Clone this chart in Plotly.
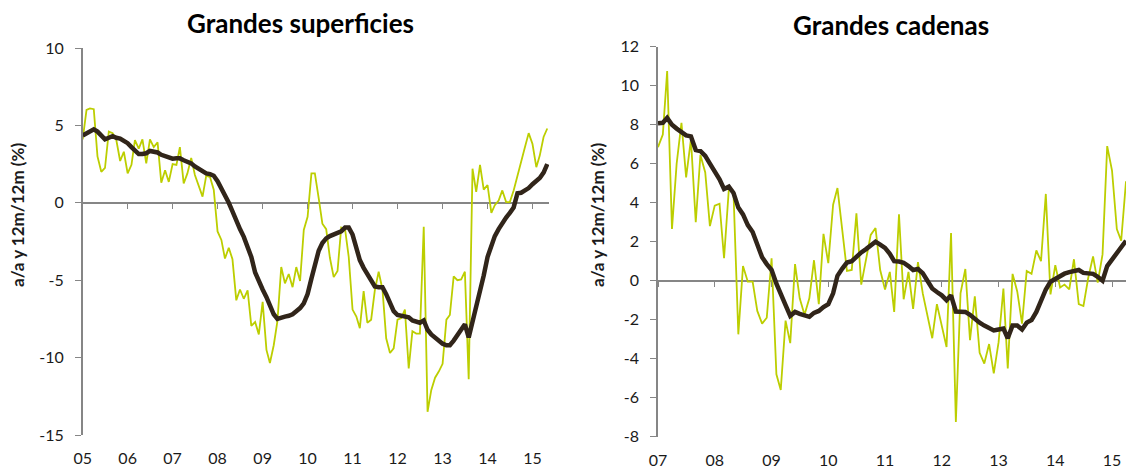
import pandas as pd
import plotly.graph_objects as go

# ---------------- data ----------------
sup_start = "2005-01-01"
sup_monthly = [
    4.1, 6.0, 6.1, 6.05, 3.0, 2.0, 2.25, 4.6, 4.5, 4.05,
    2.7, 3.3, 1.9, 2.45, 4.05, 3.5, 4.1, 2.55, 4.1, 3.6,
    3.9, 1.3, 2.1, 1.35, 2.5, 2.45, 3.6, 1.25, 1.9, 2.9,
    1.8, 1.15, 0.4, 1.75, 1.65, 0.85, -1.85, -2.4, -3.6, -2.9,
    -3.65, -6.3, -5.6, -6.2, -5.65, -7.95, -7.7, -8.5, -6.4, -9.5,
    -10.35, -9.2, -7.65, -4.15, -5.2, -4.6, -5.45, -4.15, -5.05, -1.75,
    -0.9, 1.9, 1.9, 0.3, -1.35, -1.7, -3.55, -4.8, -4.4, -1.6,
    -1.7, -3.5, -6.9, -7.35, -8.1, -5.7, -7.75, -7.55, -5.65, -4.45,
    -5.6, -8.75, -9.7, -9.4, -7.55, -7.45, -6.9, -10.7, -8.3, -8.45,
    -8.45, -1.55, -13.5, -12.1, -11.3, -10.9, -10.4, -7.55, -7.25, -4.75,
    -5.0, -4.95, -4.45, -11.4, 2.2, 0.7, 2.45, 0.85, 1.15, -0.65,
    -0.15, 0.15, 0.8, 0.05, 0.05, 0.8, 1.8, 2.65, 3.6, 4.5,
    3.8, 2.3, 3.05, 4.25, 4.8,
]
sup_12m = [
    4.35, 4.5, 4.6, 4.75, 4.6, 4.3, 4.1, 4.2, 4.3, 4.2,
    4.15, 4.0, 3.85, 3.6, 3.4, 3.15, 3.15, 3.2, 3.35, 3.3,
    3.25, 3.1, 3.0, 2.9, 2.85, 2.87, 2.87, 2.75, 2.65, 2.55,
    2.35, 2.2, 2.0, 1.9, 1.85, 1.75, 1.4, 0.95, 0.45, 0.0,
    -0.55, -1.2, -1.7, -2.2, -2.8, -3.5, -4.5, -5.1, -5.6, -6.1,
    -6.6, -7.2, -7.5, -7.4, -7.35, -7.3, -7.2, -7.0, -6.8, -6.5,
    -5.9, -4.9, -3.95, -3.1, -2.6, -2.3, -2.15, -2.05, -1.95, -1.85,
    -1.6, -1.6, -2.05, -2.8, -3.7, -4.2, -4.6, -5.1, -5.4, -5.45,
    -5.45, -5.9, -6.4, -7.0, -7.25, -7.3, -7.3, -7.4, -7.6, -7.7,
    -7.75, -7.6, -8.2, -8.5, -8.7, -8.9, -9.1, -9.2, -9.2, -8.9,
    -8.55, -8.2, -7.85, -8.7, -7.7, -6.8, -5.8, -4.7, -3.5, -2.7,
    -2.15, -1.7, -1.3, -0.95, -0.65, -0.3, 0.62, 0.65, 0.8, 0.95,
    1.2, 1.4, 1.6, 1.95, 2.5,
]

cad_start = "2007-01-01"
cad_monthly = [
    6.85, 7.5, 10.75, 2.65, 6.0, 8.1, 5.3, 7.25, 3.0, 6.45,
    5.55, 2.8, 3.85, 3.95, 1.15, 4.7, 4.5, -2.75, 0.75, -0.05,
    -0.05, -1.55, -2.2, -1.9, 1.15, -4.8, -5.6, -2.05, -3.2, 0.85,
    -0.9, -1.75, -0.9, 1.05, -1.2, 2.4, 0.9, 3.9, 4.75, 2.45,
    0.5, 0.55, 3.45, -0.2, 1.0, 2.35, 2.7, 0.55, -0.45, 0.45,
    -1.6, 3.4, -0.95, 0.45, -1.45, 0.95, -0.65, -1.85, -2.95, -1.2,
    -2.3, -3.4, 2.45, -7.25, -0.65, 0.6, -3.05, -0.8, -3.7, -4.25,
    -3.25, -4.75, -3.15, -0.4, -4.5, 0.35, -0.55, -2.2, 0.5, 0.35,
    1.55, 1.0, 4.45, -0.7, 0.8, -0.35, -0.2, -0.45, 1.1, -1.2,
    -1.3, 0.15, 1.25, -0.1, 1.35, 6.9, 5.65, 2.65, 2.05, 5.1,
]
cad_12m = [
    8.08, 8.1, 8.35, 8.0, 7.8, 7.65, 7.45, 7.4, 6.7, 6.65,
    6.4, 6.0, 5.6, 5.2, 4.7, 4.82, 4.5, 3.75, 3.4, 2.85,
    2.5, 1.9, 1.2, 0.85, 0.55, -0.15, -0.75, -1.25, -1.8, -1.6,
    -1.7, -1.8, -1.85, -1.65, -1.55, -1.35, -1.2, -0.65, 0.25, 0.62,
    0.93, 1.0, 1.25, 1.45, 1.62, 1.8, 2.0, 1.85, 1.68, 1.38,
    1.0, 0.98, 0.92, 0.75, 0.55, 0.6, 0.38, 0.0, -0.4, -0.58,
    -0.75, -1.0, -0.75, -1.58, -1.6, -1.6, -1.75, -1.98, -2.15, -2.3,
    -2.45, -2.55, -2.5, -2.45, -2.95, -2.3, -2.3, -2.5, -2.15, -2.02,
    -1.6, -1.0, -0.45, -0.05, 0.1, 0.25, 0.36, 0.44, 0.52, 0.55,
    0.4, 0.4, 0.35, 0.2, 0.0, 0.75, 1.1, 1.4, 1.72, 2.05,
]

sup_years = list(range(2005, 2016))
sup_ticktext = ["05", "06", "07", "08", "09", "10", "11", "12", "13", "14", "15"]
cad_years = list(range(2007, 2016))
cad_ticktext = ["07", "08", "09", "10", "11", "12", "13", "14", "15"]

sup_yticks = [-15, -10, -5, 0, 5, 10]
cad_yticks = [-8, -6, -4, -2, 0, 2, 4, 6, 8, 10, 12]

titles = ["Grandes superficies", "Grandes cadenas"]
ytitle = "a/a y 12m/12m (%)"

# ---------------- figure ----------------
W, H = 1126, 468
GREEN = "#BCCE00"
DARK = "#31251A"
AXIS = "#868686"
TXT = "#1A1A1A"
FONT = "Lato"

sup_dates = pd.date_range(sup_start, periods=len(sup_monthly), freq="MS")
cad_dates = pd.date_range(cad_start, periods=len(cad_monthly), freq="MS")

# pixel layout
L_x0, L_x1 = 82.7 / W, 549 / W
L_y0, L_y1 = 1 - 435 / H, 1 - 48 / H
R_x0, R_x1 = 658 / W, 1.0
R_y0, R_y1 = 1 - 436.7 / H, 1 - 46.7 / H

L_range_y = [-15, 10]
R_range_y = [-8, 12]
L_range_x = ["2005-01-01", "2015-05-15"]
R_range_x = ["2007-01-01", "2015-04-01"]

L_zero = L_y0 + (0 - L_range_y[0]) / (L_range_y[1] - L_range_y[0]) * (L_y1 - L_y0)
R_zero = R_y0 + (0 - R_range_y[0]) / (R_range_y[1] - R_range_y[0]) * (R_y1 - R_y0)

fig = go.Figure()

fig.add_trace(go.Scatter(x=sup_dates, y=sup_monthly, mode="lines",
                         line=dict(color=GREEN, width=1.8), xaxis="x", yaxis="y",
                         showlegend=False, hoverinfo="skip"))
fig.add_trace(go.Scatter(x=sup_dates, y=sup_12m, mode="lines",
                         line=dict(color=DARK, width=4.5), xaxis="x", yaxis="y",
                         showlegend=False, hoverinfo="skip"))
fig.add_trace(go.Scatter(x=cad_dates, y=cad_monthly, mode="lines",
                         line=dict(color=GREEN, width=1.8), xaxis="x2", yaxis="y2",
                         showlegend=False, hoverinfo="skip"))
fig.add_trace(go.Scatter(x=cad_dates, y=cad_12m, mode="lines",
                         line=dict(color=DARK, width=4.5), xaxis="x2", yaxis="y2",
                         showlegend=False, hoverinfo="skip"))
# invisible anchors for the tick axes drawn on the zero lines
fig.add_trace(go.Scatter(x=sup_dates[:1], y=[0], mode="markers", marker=dict(opacity=0),
                         xaxis="x3", yaxis="y", showlegend=False, hoverinfo="skip"))
fig.add_trace(go.Scatter(x=cad_dates[:1], y=[0], mode="markers", marker=dict(opacity=0),
                         xaxis="x4", yaxis="y2", showlegend=False, hoverinfo="skip"))

tickfont = dict(family=FONT, size=16, color=TXT)
sup_tickvals = [f"{y}-01-01" for y in sup_years]
cad_tickvals = [f"{y}-01-01" for y in cad_years]

common_x = dict(type="date", showgrid=False, zeroline=False, showline=False,
                ticks="", tickfont=tickfont, ticklabelstandoff=12, fixedrange=True,
                automargin=False)
common_y = dict(showgrid=False, zeroline=True, zerolinecolor=AXIS, zerolinewidth=1.5,
                showline=True, linecolor=AXIS, linewidth=1.5, ticks="outside",
                ticklen=6, tickcolor=AXIS, tickwidth=1.3, tickfont=tickfont,
                ticklabelstandoff=8, fixedrange=True, automargin=False)
tick_axis = dict(type="date", anchor="free", showticklabels=False, showgrid=False,
                 zeroline=False, showline=False, ticks="outside", ticklen=5,
                 tickcolor=AXIS, tickwidth=1.3, fixedrange=True, automargin=False)

fig.update_layout(
    template="none",
    width=W, height=H,
    margin=dict(l=0, r=0, t=0, b=0, pad=0),
    paper_bgcolor="white", plot_bgcolor="white",
    xaxis=dict(domain=[L_x0, L_x1], anchor="y", range=L_range_x,
               tickvals=sup_tickvals, ticktext=sup_ticktext, **common_x),
    yaxis=dict(domain=[L_y0, L_y1], anchor="x", range=L_range_y,
               tickvals=sup_yticks, ticktext=[str(v) for v in sup_yticks], **common_y),
    xaxis2=dict(domain=[R_x0, R_x1], anchor="y2", range=R_range_x,
                tickvals=cad_tickvals, ticktext=cad_ticktext, **common_x),
    yaxis2=dict(domain=[R_y0, R_y1], anchor="x2", range=R_range_y,
                tickvals=cad_yticks, ticktext=[str(v) for v in cad_yticks], **common_y),
    xaxis3=dict(overlaying="x", position=L_zero, domain=[L_x0, L_x1],
                range=L_range_x, tickvals=sup_tickvals, **tick_axis),
    xaxis4=dict(overlaying="x2", position=R_zero, domain=[R_x0, R_x1],
                range=R_range_x, tickvals=cad_tickvals, **tick_axis),
)

annotations = [
    dict(text=f"<b>{titles[0]}</b>", x=300 / W, y=1 - 23 / H,
         xref="paper", yref="paper", showarrow=False,
         font=dict(family=FONT, size=26, color="black"), xanchor="center", yanchor="middle"),
    dict(text=f"<b>{titles[1]}</b>", x=891 / W, y=1 - 25 / H,
         xref="paper", yref="paper", showarrow=False,
         font=dict(family=FONT, size=26, color="black"), xanchor="center", yanchor="middle"),
    dict(text=f"<b>{ytitle}</b>", x=18 / W, y=1 - 215 / H, textangle=-90,
         xref="paper", yref="paper", showarrow=False,
         font=dict(family=FONT, size=17, color=TXT), xanchor="center", yanchor="middle"),
    dict(text=f"<b>{ytitle}</b>", x=598 / W, y=1 - 215 / H, textangle=-90,
         xref="paper", yref="paper", showarrow=False,
         font=dict(family=FONT, size=17, color=TXT), xanchor="center", yanchor="middle"),
]
fig.update_layout(annotations=annotations)

fig.write_html("out.html", config={"displayModeBar": False},
               post_script="document.body.style.margin='0';document.body.style.overflow='hidden';")
